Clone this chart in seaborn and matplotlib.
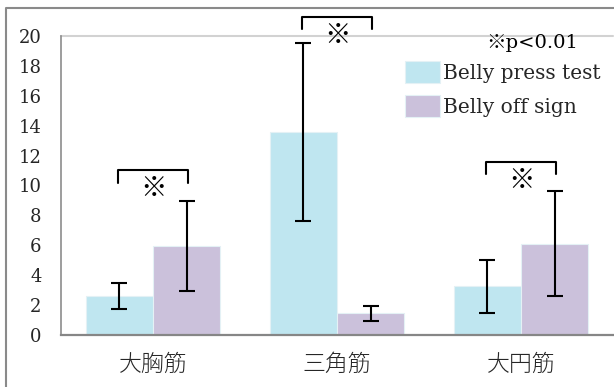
import numpy as np
import pandas as pd
import matplotlib
matplotlib.use("Agg")
import matplotlib.pyplot as plt
import seaborn as sns
from matplotlib.lines import Line2D

# ---- data ----
categories = ["大胸筋", "三角筋", "大円筋"]
series_names = ["Belly press test", "Belly off sign"]
press_mean = [2.6, 13.55, 3.25]
press_err = [0.85, 5.95, 1.8]
off_mean = [5.95, 1.45, 6.1]
off_err = [3.0, 0.5, 3.5]
y_ticks = [0, 2, 4, 6, 8, 10, 12, 14, 16, 18, 20]
sig_top = [11.05, 21.3, 11.6]
sig_mark = "※"
note_text = "※p<0.01"

colors = ["#BFE6F0", "#CBC1DB"]

sns.set_theme(style="white")
plt.rcParams["font.family"] = ["DejaVu Serif", "Noto Sans CJK JP"]

df = pd.DataFrame({
    "category": categories * 2,
    "series": [series_names[0]] * 3 + [series_names[1]] * 3,
    "value": press_mean + off_mean,
})

W, H = 614, 387
fig = plt.figure(figsize=(W / 100, H / 100), dpi=100)
fig.patch.set_facecolor("white")
ax = fig.add_axes([61 / W, 1 - 335 / H, 552 / W, 299 / H])

sns.barplot(data=df, x="category", y="value", hue="series", order=categories,
            hue_order=series_names, palette=colors, width=0.73, errorbar=None,
            saturation=1, edgecolor="#e4f1f5", linewidth=0.8, ax=ax)

for cont, means, errs in zip(ax.containers, [press_mean, off_mean], [press_err, off_err]):
    xs = [b.get_x() + b.get_width() / 2 for b in cont]
    ax.errorbar(xs, means, yerr=errs, fmt="none", ecolor="black",
                elinewidth=1.5, capsize=5.5, capthick=1.5, zorder=5)

ax.set_ylim(0, 20)
ax.set_xlim(-0.5, 2.5)
ax.set_yticks(y_ticks)
ax.set_yticklabels([str(t) for t in y_ticks])
ax.set_xlabel("")
ax.set_ylabel("")
ax.tick_params(axis="y", length=0, pad=14, labelsize=13)
ax.tick_params(axis="x", length=0, pad=12, labelsize=16.5)
for lab in ax.get_xticklabels():
    lab.set_fontfamily(["Noto Sans CJK JP"])
    lab.set_fontweight("light")

for s in ["top", "right"]:
    ax.spines[s].set_visible(False)
ax.spines["left"].set_color("#8c8c8c")
ax.spines["left"].set_linewidth(1.2)
ax.spines["bottom"].set_color("#868686")
ax.spines["bottom"].set_linewidth(1.6)
ax.axhline(20, color="#d2d2d2", lw=1.5, zorder=0, clip_on=False)

# significance brackets
drop = 0.85
half = 0.19
for i, top in enumerate(sig_top):
    ax.plot([i - half, i - half, i + half, i + half], [top - drop, top, top, top - drop],
            color="black", lw=1.5, clip_on=False, zorder=6)
    ax.text(i, top - 1.2, sig_mark, ha="center", va="center", fontsize=19,
            family=["Noto Sans CJK JP"], fontweight="light", color="black", clip_on=False)

ax.text(2.5 - 0.19, 19.5, note_text, ha="right", va="center", fontsize=14,
        color="black")

leg = ax.legend(loc="upper left", bbox_to_anchor=(405 / W, 1 - 61 / H),
                bbox_transform=fig.transFigure, frameon=False, borderpad=0,
                borderaxespad=0, fontsize=14.5, handlelength=1.75, handleheight=1.3,
                handletextpad=0.15, labelspacing=0.6, title=None)

# outer chart border
fig.add_artist(Line2D([6 / W, 6 / W, 1.0], [0.0, 1 - 8 / H, 1 - 8 / H],
                      transform=fig.transFigure, color="#8a8a8a", lw=1.5))

fig.savefig("out.png", dpi=100)
